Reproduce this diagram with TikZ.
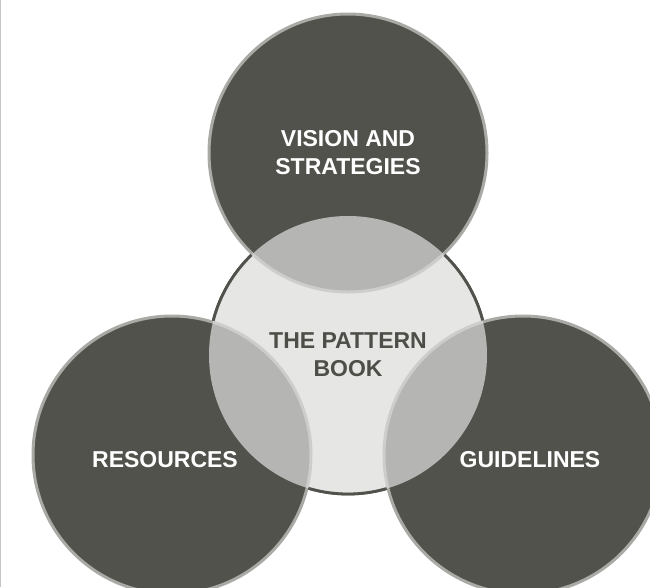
\documentclass[tikz,border=0pt]{standalone}
\usepackage{fontspec}
\setmainfont{Liberation Sans}
\usepackage{tikz}
\usetikzlibrary{positioning}
\definecolor{slate}{RGB}{82,82,76}
\definecolor{rimGrey}{RGB}{169,170,165}
\definecolor{paleGrey}{RGB}{220,220,219}
\definecolor{bookText}{RGB}{78,78,73}
\definecolor{frameGrey}{RGB}{196,196,196}

\begin{document}
\begin{tikzpicture}[
    x=1pt, y=-1pt,
    disc/.style={circle, minimum size=278pt, inner sep=0pt, align=center, font=\bfseries\fontsize{23}{28}\selectfont},
    pillar/.style={disc, draw=rimGrey, line width=3pt, fill=slate, text=white},
    lowpillar/.style={pillar, text height=25pt, text depth=0pt},
    hub/.style={disc, fill=paleGrey, fill opacity=0.72, text opacity=1, text=bookText},
    hubrim/.style={draw=slate, line width=2.8pt},
]
\useasboundingbox (0,0) rectangle (650,587);
\draw[frameGrey, line width=1.2pt] (0.6,0) -- (0.6,587);

% outline of the book circle, hidden later where the pillars lie on it
\node[disc, hubrim] (rim) at (348,355) {};

% the three pillars
\node[pillar] (vision) at (348,153) {VISION AND\\STRATEGIES};
\node[lowpillar] (resources) at (172,455) {\hspace*{-14pt}RESOURCES};
\node[lowpillar] (guidelines) at (523,455) {\hspace*{14pt}GUIDELINES};

% the pattern book on top
\node[hub] (book) at (348,355) {THE PATTERN\\BOOK};

% dark outline again, only outside the pillars
\begin{scope}[even odd rule]
\clip (-10,-10) rectangle (660,600)
    (vision.center) circle[radius=140.5pt]
    (resources.center) circle[radius=140.5pt]
    (guidelines.center) circle[radius=140.5pt];
\draw[hubrim] (book.center) circle[radius=139pt];
\end{scope}
\end{tikzpicture}
\end{document}
